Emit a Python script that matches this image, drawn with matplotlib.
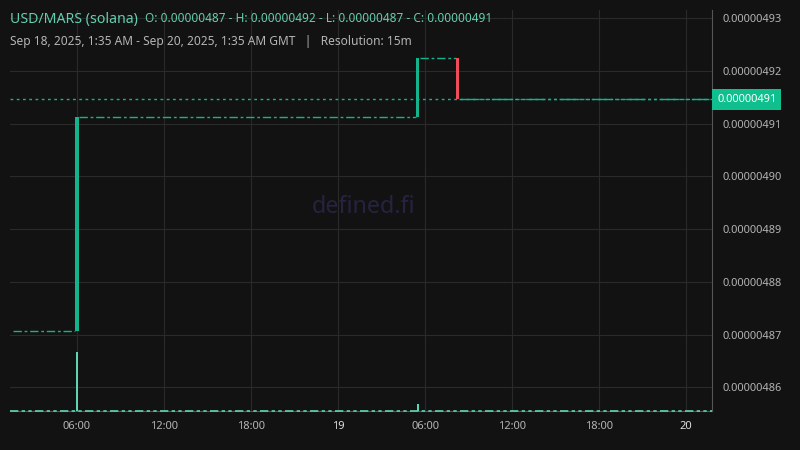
import numpy as np
import matplotlib
matplotlib.use("Agg")
import matplotlib.pyplot as plt

#### data (hours counted from Sep 18, 2025 00:00 GMT) ####
title = "USD/MARS (solana)"
ohlc_text = "O: 0.00000487 - H: 0.00000492 - L: 0.00000487 - C: 0.00000491"
range_text = "Sep 18, 2025, 1:35 AM - Sep 20, 2025, 1:35 AM GMT   |   Resolution: 15m"

# candles that move
candle_time = [6.0, 29.5, 32.25]
candle_open = [4.8707e-6, 4.9113e-6, 4.9225e-6]
candle_close = [4.9113e-6, 4.9225e-6, 4.9146e-6]

# runs of flat 15m candles (open = high = low = close)
flat_start = [1.583, 6.125, 29.625, 32.375]
flat_end = [5.875, 29.375, 32.125, 49.583]
flat_price = [4.8707e-6, 4.9113e-6, 4.9225e-6, 4.9146e-6]

vol_time = [6.0, 29.5]
vol_value = [590, 70]

last_price = 4.9146e-6

price_ticks = [4.86e-6, 4.87e-6, 4.88e-6, 4.89e-6, 4.90e-6, 4.91e-6, 4.92e-6, 4.93e-6]
time_ticks = [6, 12, 18, 24, 30, 36, 42, 48]
time_labels = ["06:00", "12:00", "18:00", "19", "06:00", "12:00", "18:00", "20"]

########################################
bg = "#121212"
green = "#14b38c"
red = "#ec4d58"
gridc = "#2a2a2a"
textc = "#b4b4b4"

plt.rcParams['font.family'] = ['Noto Sans', 'DejaVu Sans']

fig = plt.figure(figsize=(8, 4.5), dpi=100, facecolor=bg)
ax = fig.add_axes([10/800, 39/450, 702/800, 401/450])
ax.set_facecolor(bg)

# volume on its own twin axis (created first so the price axis keeps its right ticks)
vax = ax.twinx()
vax.set_ylim(0, max(vol_value) * 401 / 59)
vax.set_axis_off()
vax.bar(vol_time, vol_value, width=0.14, color="#5fd4b0", zorder=3)
vax.axhline(0, color="#5fd4b0", linewidth=1.2, linestyle=(0, (5, 2, 2, 2, 2, 2)), clip_on=False)

ax.set_xlim(1.38, 49.79)
ax.set_ylim(4.8555e-6, 4.93157e-6)

for s in ['left', 'top']:
    ax.spines[s].set_visible(False)
for s in ['right', 'bottom']:
    ax.spines[s].set_color("#555555")
    ax.spines[s].set_linewidth(0.8)

ax.grid(True, color=gridc, linewidth=0.8)
ax.set_axisbelow(True)

ax.yaxis.tick_right()
ax.set_yticks(price_ticks)
ax.set_yticklabels(["%.8f" % p for p in price_ticks])
ax.tick_params(axis='y', which='both', left=False, right=True, labelleft=False, labelright=True,
               length=0, pad=7.5, labelsize=7.9, labelcolor=textc)
ax.set_xticks(time_ticks)
ax.set_xticklabels(time_labels)
ax.tick_params(axis='x', length=0, pad=7, labelsize=8, labelcolor=textc)
for lab in ax.get_xticklabels():
    if ':' not in lab.get_text():
        lab.set_fontweight('bold')
        lab.set_color("#dddddd")

# watermark
ax.text(0.503, 0.508, "defined.fi", transform=ax.transAxes, ha='center', va='center',
        fontsize=16.8, color="#25233f", zorder=1)

# flat candles
for i in range(len(flat_price)):
    ls = (0, (6, 2, 2, 2)) if i < 3 else (0, (14, 2, 2, 2, 2, 2))
    ax.hlines(flat_price[i], flat_start[i], flat_end[i], color=green, linewidth=1,
              linestyles=[ls], zorder=3)

# moving candles
for t, o, c in zip(candle_time, candle_open, candle_close):
    col = green if c >= o else red
    ax.bar(t, abs(c - o), bottom=min(o, c), width=0.22, color=col, zorder=4)

# last price line
ax.axhline(last_price, color=green, linewidth=1, linestyle=(0, (2, 2.5)), zorder=2)

# price label
ax.annotate("%.8f" % last_price, xy=(1, last_price), xycoords=('axes fraction', 'data'),
            xytext=(3.8, 0), textcoords='offset points', ha='left', va='center',
            fontsize=7.9, color='white', annotation_clip=False,
            bbox=dict(boxstyle='square,pad=0.45', fc="#0fbf8e", ec='none'))

# header
fig.text(10/800, 1 - 19/450, title, fontsize=10.2, color="#62cfae", va='center', ha='left')
fig.text(145/800, 1 - 19/450, ohlc_text, fontsize=8.5, color="#62cfae", va='center', ha='left')
fig.text(10/800, 1 - 41/450, range_text, fontsize=8.6, color=textc, va='center', ha='left')

fig.savefig("out.png", dpi=100, facecolor=bg)
